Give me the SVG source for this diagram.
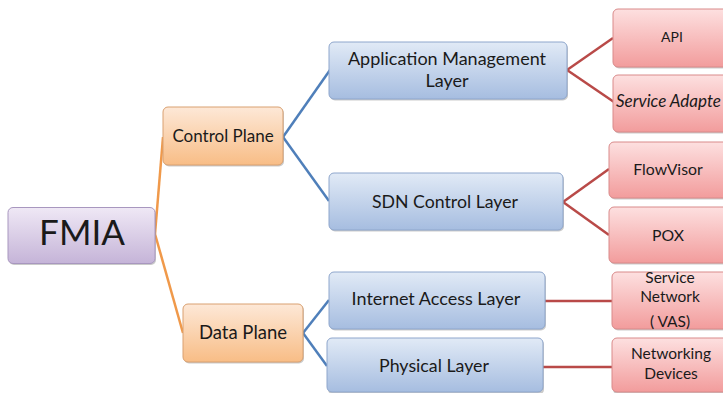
<svg xmlns="http://www.w3.org/2000/svg" width="723" height="393" viewBox="0 0 723 393">
<defs>
<linearGradient id="gP" x1="0" y1="0" x2="0" y2="1"><stop offset="0" stop-color="#efe8f5"/><stop offset="1" stop-color="#c5b4d8"/></linearGradient>
<linearGradient id="gO" x1="0" y1="0" x2="0" y2="1"><stop offset="0" stop-color="#fde8d7"/><stop offset="1" stop-color="#f8bd86"/></linearGradient>
<linearGradient id="gB" x1="0" y1="0" x2="0" y2="1"><stop offset="0" stop-color="#e1eaf6"/><stop offset="1" stop-color="#a6bde0"/></linearGradient>
<linearGradient id="gR" x1="0" y1="0" x2="0" y2="1"><stop offset="0" stop-color="#fde0e0"/><stop offset="1" stop-color="#f29c9c"/></linearGradient>
</defs>
<style>
.t{font-family:Lato,"Open Sans","Liberation Sans",sans-serif;fill:#1a1a1a;text-anchor:middle}
.sh{fill:#8a8a8a;opacity:0.45}
.p{fill:url(#gP);stroke:#a897bf;stroke-width:1}
.o{fill:url(#gO);stroke:#d9a070;stroke-width:1}
.b{fill:url(#gB);stroke:#8ea6cc;stroke-width:1}
.r{fill:url(#gR);stroke:#d98a8a;stroke-width:1}
.lo{stroke:#f0994a;stroke-width:2.5;fill:none}
.lb{stroke:#4f7fba;stroke-width:2.5;fill:none}
.lr{stroke:#b94a48;stroke-width:2.5;fill:none}
</style>
<g id="connectors">
<path class="lo" d="M155,234 L163,137"/>
<path class="lo" d="M155,234 L183,333"/>
<path class="lb" d="M283,137 L330,70"/>
<path class="lb" d="M283,137 L329,201"/>
<path class="lb" d="M303,333 L329,300"/>
<path class="lb" d="M303,333 L327,366"/>
<path class="lr" d="M567,70 L613,38"/>
<path class="lr" d="M567,70 L614,102"/>
<path class="lr" d="M563,202 L609,169"/>
<path class="lr" d="M563,202 L609,235"/>
<path class="lr" d="M545,301 L612,301"/>
<path class="lr" d="M543,367 L612,367"/>
</g>
<g id="fmia">
<rect class="sh" x="9" y="209" width="147" height="56" rx="5"/>
<rect class="p" x="8" y="207.5" width="147" height="56" rx="5"/>
<text class="t" x="82" y="245" font-size="35">FMIA</text>
</g>
<g id="control-plane">
<rect class="sh" x="164" y="108.5" width="120" height="58" rx="5"/>
<rect class="o" x="163" y="107" width="120" height="58" rx="5"/>
<text class="t" x="223" y="142" font-size="17">Control Plane</text>
</g>
<g id="data-plane">
<rect class="sh" x="184" y="305.5" width="120" height="58" rx="5"/>
<rect class="o" x="183" y="304" width="120" height="58" rx="5"/>
<text class="t" x="243" y="339" font-size="18.5">Data Plane</text>
</g>
<g id="app-mgmt">
<rect class="sh" x="330" y="43.5" width="238" height="57" rx="5"/>
<rect class="b" x="329" y="42" width="238" height="57" rx="5"/>
<text class="t" x="447" y="65" font-size="18">Application Management</text>
<text class="t" x="447" y="87" font-size="18">Layer</text>
</g>
<g id="sdn-control">
<rect class="sh" x="330" y="174.5" width="234" height="57" rx="5"/>
<rect class="b" x="329" y="173" width="234" height="57" rx="5"/>
<text class="t" x="445" y="208" font-size="17.7">SDN Control Layer</text>
</g>
<g id="internet-access">
<rect class="sh" x="330" y="273.5" width="216" height="57" rx="5"/>
<rect class="b" x="329" y="272" width="216" height="57" rx="5"/>
<text class="t" x="436" y="305" font-size="18">Internet Access Layer</text>
</g>
<g id="physical">
<rect class="sh" x="328" y="339.5" width="216" height="55" rx="5"/>
<rect class="b" x="327" y="338" width="216" height="54" rx="5"/>
<text class="t" x="434" y="372" font-size="17.8">Physical Layer</text>
</g>
<g id="api">
<rect class="sh" x="614" y="10.5" width="120" height="58" rx="5"/>
<rect class="r" x="613" y="9" width="120" height="58" rx="5"/>
<text class="t" x="672" y="42" font-size="14">API</text>
</g>
<g id="service-adapter">
<rect class="sh" x="614" y="76.5" width="120" height="57" rx="5"/>
<rect class="r" x="613" y="75" width="120" height="57" rx="5"/>
<text class="t" x="616" y="107" font-size="17" font-style="italic" style="text-anchor:start">Service Adapte</text>
</g>
<g id="flowvisor">
<rect class="sh" x="610" y="143.5" width="120" height="56" rx="5"/>
<rect class="r" x="609" y="142" width="120" height="56" rx="5"/>
<text class="t" x="668" y="175" font-size="15.8">FlowVisor</text>
</g>
<g id="pox">
<rect class="sh" x="610" y="208.5" width="120" height="56" rx="5"/>
<rect class="r" x="609" y="207" width="120" height="56" rx="5"/>
<text class="t" x="668" y="241" font-size="15.8">POX</text>
</g>
<g id="service-network">
<rect class="sh" x="613" y="273.5" width="120" height="57" rx="5"/>
<rect class="r" x="612" y="272" width="120" height="57" rx="5"/>
<text class="t" x="670" y="283" font-size="15.5">Service</text>
<text class="t" x="670" y="302" font-size="15.5">Network</text>
<text class="t" x="670" y="327" font-size="15.5">( VAS)</text>
</g>
<g id="networking-devices">
<rect class="sh" x="613" y="339.5" width="120" height="55" rx="5"/>
<rect class="r" x="612" y="338" width="120" height="54" rx="5"/>
<text class="t" x="671" y="359" font-size="15.5">Networking</text>
<text class="t" x="671" y="379" font-size="15.5">Devices</text>
</g>
</svg>
